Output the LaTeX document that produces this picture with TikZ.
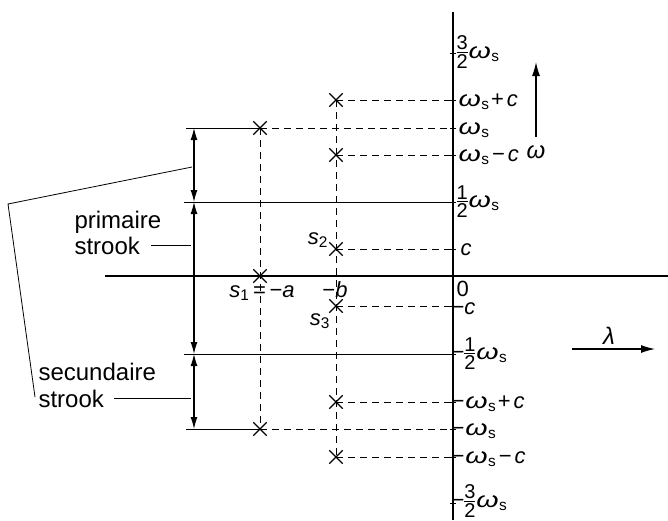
\documentclass[tikz,border=0pt]{standalone}
\usepackage{graphicx}
\usepackage{fontspec}
\setmainfont{Liberation Sans}
\usetikzlibrary{arrows.meta,shapes.misc}
\newcommand{\om}{\scalebox{1.3}[1]{\itshape ω}}
\newcommand{\ws}{\om\kern0.5pt\textsubscript{s}}
\newcommand{\fsm}[1]{\fontsize{20}{20}\selectfont #1}
\newcommand{\hf}[1]{\raisebox{-10pt}{\vbox{\hbox to 11pt{\hfil\fsm{#1}\hfil}\kern1.5pt\hrule height 1pt\kern1.5pt\hbox to 11pt{\hfil\fsm{2}\hfil}}}\kern1pt}
\newcommand{\mn}{−}
\newcommand{\pl}{\kern1.5pt+\kern3pt}
\newcommand{\mi}{\kern2.5pt−\kern3pt}
\begin{document}
\begin{tikzpicture}[x=1pt,y=-1pt,line width=1.1pt,
  lbl/.style={font=\fontsize{22}{24}\selectfont,inner sep=0pt,anchor=base west},
  clbl/.style={font=\fontsize{22}{24}\selectfont,inner sep=0pt,anchor=center},
  txt/.style={font=\fontsize{24}{27}\selectfont,inner sep=0pt,anchor=base west},
  xm/.style={cross out,draw,minimum size=12pt,inner sep=0pt,line width=1.3pt},
  dsh/.style={dash pattern=on 7pt off 5pt,line width=1pt},
  dim/.style={{Latex[length=12pt,width=7pt]}-{Latex[length=12pt,width=7pt]},line width=1.1pt},
  thinl/.style={line width=0.8pt},
  axarrow/.style={-{Latex[length=14pt,width=8pt]},line width=1.2pt}]
\useasboundingbox (0,0) rectangle (668,520);
% axes
\coordinate (vtop) at (453,12);
\coordinate (vbot) at (453,520);
\coordinate (hl) at (105,276);
\coordinate (hr) at (668,276);
\draw (vtop) -- (vbot);
\draw (hl) -- (hr);
% ticks on the vertical axis
\foreach \y/\n in {53/t32,100/tpc,128/tw,155/tmc,202/th,249/tc,306/tnc,354/tnh,402/tnwc,429/tnw,457/tnwmc,503/tn32}{
  \coordinate (\n) at (453,\y);
  \draw[thinl] ([xshift=-3pt]\n) -- ([xshift=3pt]\n);
}
% poles
\node[xm] (a1) at (260,128) {};
\node[xm] (a0) at (260,276) {};
\node[xm] (a2) at (260,429) {};
\node[xm] (b1) at (336,100) {};
\node[xm] (b2) at (336,155) {};
\node[xm] (b3) at (336,249) {};
\node[xm] (b4) at (336,306) {};
\node[xm] (b5) at (336,402) {};
\node[xm] (b6) at (336,457) {};
% dashed lines
\draw[dsh] (a1.center) -- (a2.center);
\draw[dsh] (b1.center) -- (b6.center);
\draw[dsh] (a1.center) -- (tw);
\draw[dsh] (a2.center) -- (tnw);
\draw[dsh] (b1.center) -- (tpc);
\draw[dsh] (b2.center) -- (tmc);
\draw[dsh] (b3.center) -- (tc);
\draw[dsh] (b4.center) -- (tnc);
\draw[dsh] (b5.center) -- (tnwc);
\draw[dsh] (b6.center) -- (tnwmc);
% solid horizontal lines and dimension line
\coordinate (d1) at (194,128);
\coordinate (d2) at (194,202);
\coordinate (d3) at (194,354);
\coordinate (d4) at (194,429);
\draw[line width=1pt] ([xshift=-8pt]d1) -- (a1.center);
\draw[line width=1pt] ([xshift=-10pt]d2) -- (th);
\draw[line width=1pt] ([xshift=-10pt]d3) -- (tnh);
\draw[line width=1pt] ([xshift=-8pt]d4) -- (a2.center);
\draw[dim] (d1) -- (d2);
\draw[dim] (d2) -- (d3);
\draw[dim] (d3) -- (d4);
% axis labels (baseline about 6 below the tick)
\node[lbl] (l32) at (456,58) {\hf{3}\ws};
\node[lbl] (lpc) at (458,106) {\ws\pl\textit{c}};
\node[lbl] (lw) at (458,134) {\ws};
\node[lbl] (lmc) at (458,161) {\ws\mi\textit{c}};
\node[lbl] (lh) at (456,207) {\hf{1}\ws};
\node[lbl] (lc) at (460,255) {\textit{c}};
\node[lbl] (l0) at (456,296) {0};
\node[lbl] (lnc) at (451,314) {\mn\textit{c}};
\node[lbl] (lnh) at (451,359) {\mn\hf{1}\ws};
\node[lbl] (lnwc) at (451,408) {\mn\kern1pt\ws\pl\textit{c}};
\node[lbl] (lnw) at (451,435) {\mn\kern1pt\ws};
\node[lbl] (lnwmc) at (451,463) {\mn\kern1pt\ws\mi\textit{c}};
\node[lbl] (ln32) at (451,507) {\mn\hf{3}\ws};
% pole labels
\node[clbl] (s1) at (262,293) {\textit{s}\textsubscript{1}\,=\,\mn\textit{a}};
\node[clbl] (mb) at (335,290) {\mn\textit{b}};
\node[clbl] (s2) at (318,240) {\textit{s}\textsubscript{2}};
\node[clbl] (s3) at (320,321) {\textit{s}\textsubscript{3}};
% direction arrows
\coordinate (wa0) at (536,137);
\coordinate (wa1) at (536,62);
\draw[axarrow] (wa0) -- (wa1);
\node[clbl,font=\fontsize{24}{26}\selectfont] (om) at (536,152) {\textit{ω}};
\coordinate (la0) at (572,349);
\coordinate (la1) at (655,349);
\draw[axarrow] (la0) -- (la1);
\node[clbl,font=\fontsize{24}{26}\selectfont] (lam) at (609,336) {\textit{λ}};
% band texts
\node[txt] (p1) at (74,228) {primaire};
\node[txt] (p2) at (74,254) {strook};
\node[txt] (q1) at (38,380) {secundaire};
\node[txt] (q2) at (38,407) {strook};
\coordinate (pl) at (191,247);
\coordinate (ql) at (191,401);
\draw[thinl] ([xshift=11pt]p2.east) -- (p2.east -| pl);
\draw[thinl] ([xshift=10pt]q2.east) -- (q2.east -| ql);
\coordinate (br1) at (192,167);
\coordinate (br2) at (8,204);
\coordinate (br3) at (35,397);
\draw[thinl] (br1) -- (br2) -- (br3);
\end{tikzpicture}
\end{document}
